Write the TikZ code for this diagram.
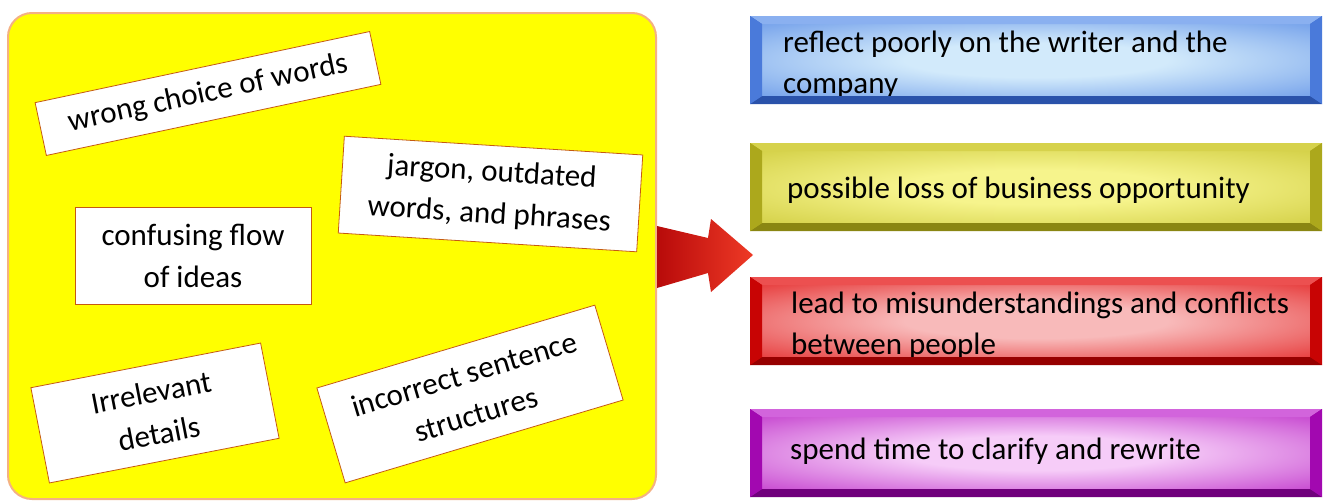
\documentclass[tikz,border=0pt]{standalone}
\usepackage{fontspec}
\setmainfont{Carlito}
\definecolor{boxline}{HTML}{C55A11}
\definecolor{panelline}{HTML}{F4B183}
\definecolor{panelfill}{HTML}{FFFF00}
\definecolor{bluein}{HTML}{D2EAFB}
\definecolor{blueout}{HTML}{4F84E4}
\definecolor{blueedge}{HTML}{3F6FD4}
\definecolor{bluetop}{HTML}{8AB0F0}
\definecolor{bluebot}{HTML}{2A52AA}
\definecolor{bluesid}{HTML}{4A7ADA}
\definecolor{olivein}{HTML}{F6F48C}
\definecolor{oliveout}{HTML}{C6C22C}
\definecolor{oliveedge}{HTML}{B2AE1E}
\definecolor{olivetop}{HTML}{D6D24C}
\definecolor{olivebot}{HTML}{8A8612}
\definecolor{olivesid}{HTML}{ACA81C}
\definecolor{redin}{HTML}{F8BABA}
\definecolor{redout}{HTML}{E00A0A}
\definecolor{rededge}{HTML}{CC0000}
\definecolor{redtop}{HTML}{EC5050}
\definecolor{redbot}{HTML}{960000}
\definecolor{redsid}{HTML}{C80404}
\definecolor{purin}{HTML}{F6CCF8}
\definecolor{purout}{HTML}{B414C0}
\definecolor{puredge}{HTML}{A000AC}
\definecolor{purtop}{HTML}{D264DC}
\definecolor{purbot}{HTML}{70007C}
\definecolor{pursid}{HTML}{A208B0}
\definecolor{arrowdark}{HTML}{B80A0A}
\definecolor{arrowlight}{HTML}{EE3A26}
\colorlet{barin}{white}
\colorlet{barout}{black}
\pgfdeclareradialshading[barin,barout]{barshade}{\pgfpoint{0bp}{0bp}}{color(0bp)=(barin); color(12bp)=(barin); color(46bp)=(barout); color(72bp)=(barout)}
\newcommand\barbody[5]{%
  \colorlet{barin}{#3}\colorlet{barout}{#4}%
  \fill[#5] (750,#1) rectangle (1322,#2);
  \shade[shading=barshade] (762,#1+8) rectangle (1310,#2-8);
}
\newcommand\barbevel[5]{%
  \fill[#3] (750,#1) -- (1322,#1) -- (1310,#1+8) -- (762,#1+8) -- cycle;
  \fill[#4] (750,#2) -- (1322,#2) -- (1310,#2-8) -- (762,#2-8) -- cycle;
  \fill[#5] (750,#1) -- (762,#1+8) -- (762,#2-8) -- (750,#2) -- cycle;
  \fill[#5] (1322,#1) -- (1310,#1+8) -- (1310,#2-8) -- (1322,#2) -- cycle;
}
\begin{document}
\begin{tikzpicture}[x=1pt,y=-1pt,
  lbox/.style={draw=boxline, fill=white, line width=0.8pt, inner sep=0pt,
    align=center, font=\fontsize{31}{42}\selectfont},
  bartext/.style={inner sep=0pt, anchor=base west, align=left,
    font=\fontsize{31}{41}\selectfont}]
\useasboundingbox (0,0) rectangle (1324,501);
\fill[white] (0,0) rectangle (1324,501);

% yellow panel
\draw[panelline, line width=2pt, fill=panelfill, rounded corners=24pt]
  (8,13) rectangle (656,499);

% problem boxes
\node[lbox, minimum width=342pt, minimum height=54pt, rotate=12]
  (b1) at (208,93.5) {wrong choice of words};
\node[lbox, minimum width=299pt, minimum height=97pt, rotate=-3.6]
  (b2) at (490.5,194) {jargon, outdated\\words, and phrases};
\node[lbox, minimum width=236pt, minimum height=97pt]
  (b3) at (193,255.5) {confusing flow\\of ideas};
\node[lbox, minimum width=234pt, minimum height=97pt, rotate=11]
  (b4) at (155,413) {Irrelevant\\details};
\node[lbox, minimum width=290pt, minimum height=99pt, rotate=16.6]
  (b5) at (470,394) {incorrect sentence\\structures};

% arrow
\shade[left color=arrowdark, right color=arrowlight]
  (657,226) -- (708,238) -- (711,219) -- (753,255) -- (711,292) -- (708,273) -- (657,288) -- cycle;

% result bars
\barbody{16}{104}{bluein}{blueout}{blueedge}
\node[bartext] (r1) at (783,93) {reflect poorly on the writer and the\\company};
\barbevel{16}{104}{bluetop}{bluebot}{bluesid}

\barbody{143}{231}{olivein}{oliveout}{oliveedge}
\node[bartext] (r2) at (787,198) {possible loss of business opportunity};
\barbevel{143}{231}{olivetop}{olivebot}{olivesid}

\barbody{277}{365}{redin}{redout}{rededge}
\node[bartext] (r3) at (791,354) {lead to misunderstandings and conflicts\\between people};
\barbevel{277}{365}{redtop}{redbot}{redsid}

\barbody{409}{497}{purin}{purout}{puredge}
\node[bartext] (r4) at (790,459) {spend time to clarify and rewrite};
\barbevel{409}{497}{purtop}{purbot}{pursid}
\end{tikzpicture}
\end{document}
